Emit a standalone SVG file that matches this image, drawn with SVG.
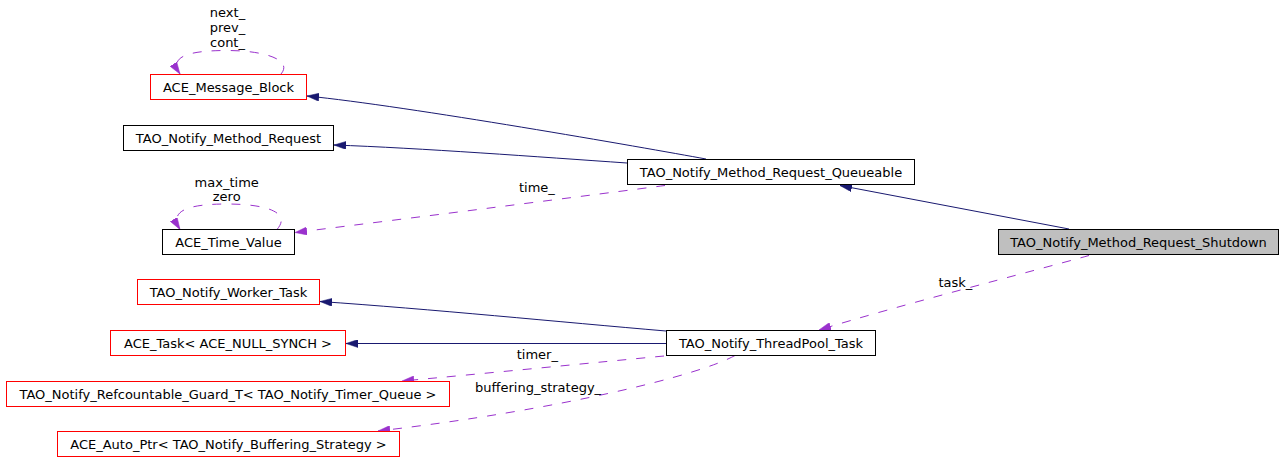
<svg xmlns="http://www.w3.org/2000/svg" width="1285" height="463" viewBox="0 0 1285 463">
<style>
text { font-family: "DejaVu Sans", "Liberation Sans", sans-serif; font-size: 13px; fill: #000000; }
.node text { text-anchor: middle; }
.box { fill: #ffffff; stroke: #000000; stroke-width: 1; }
.red { fill: #ffffff; stroke: #ff0000; stroke-width: 1; }
.focus { fill: #bfbfbf; stroke: #000000; stroke-width: 1; }
.inh { fill: none; stroke: #191970; stroke-width: 1; marker-end: url(#navyArrow); }
.use { fill: none; stroke: #9a32cd; stroke-width: 1; stroke-dasharray: 9,10; marker-end: url(#purpleArrow); }
.lbl { text-anchor: middle; }
</style>
<defs>
<marker id="navyArrow" markerUnits="userSpaceOnUse" viewBox="0 0 12 8" markerWidth="12" markerHeight="8" refX="12" refY="4" orient="auto">
<path d="M0,0 L12,4 L0,8 Z" fill="#191970" stroke="#191970" stroke-width="0.5"/>
</marker>
<marker id="purpleArrow" markerUnits="userSpaceOnUse" viewBox="0 0 12 8" markerWidth="12" markerHeight="8" refX="12" refY="4" orient="auto">
<path d="M0,0 L12,4 L0,8 Z" fill="#9a32cd" stroke="#9a32cd" stroke-width="0.5"/>
</marker>
</defs>
<rect x="0" y="0" width="1285" height="463" fill="#ffffff"/>

<g id="connectors">
<path class="use" d="M281,74 C293,60 265,50.5 227,50.5 C190,50.5 168,56 180,74"/>
<path class="use" d="M277,229.5 C292,212 265,204 227,204 C190,204 168,210 180,229.5"/>
<path class="inh" d="M706,159 C646,148 407,106 307,96"/>
<path class="inh" d="M627,163 C540,157 420,148 334,145"/>
<path class="use" d="M665,185.5 C600,194 420,217 295,232.5"/>
<path class="inh" d="M1069,229 L840,185.5"/>
<path class="use" d="M1089,255.5 C1030,272 900,305 819,330"/>
<path class="inh" d="M666,331 C560,322 430,309 320,301.5"/>
<path class="inh" d="M666,343.5 L346,343.5"/>
<path class="use" d="M664,356 C600,362 480,374 402,381"/>
<path class="use" d="M735,355.5 C700,375 560,410 378,431"/>
<text class="lbl" x="227.5" y="17.3">next_</text>
<text class="lbl" x="227.5" y="32">prev_</text>
<text class="lbl" x="227.5" y="46.7">cont_</text>
<text class="lbl" x="226.7" y="187.3">max_time</text>
<text class="lbl" x="226.7" y="201">zero</text>
<text x="519" y="191.5">time_</text>
<text x="938.5" y="286.7">task_</text>
<text x="516.7" y="359.3">timer_</text>
<text x="475" y="391.5">buffering_strategy_</text>
</g>

<g id="node-ace-message-block" class="node">
<rect class="red" x="150.5" y="74.5" width="156" height="25"/>
<text x="228.5" y="91.7">ACE_Message_Block</text>
</g>
<g id="node-tao-notify-method-request" class="node">
<rect class="box" x="123.5" y="125.5" width="210" height="25"/>
<text x="228.5" y="143">TAO_Notify_Method_Request</text>
</g>
<g id="node-ace-time-value" class="node">
<rect class="box" x="162.5" y="229.5" width="132" height="25"/>
<text x="228.5" y="246.8">ACE_Time_Value</text>
</g>
<g id="node-tao-notify-method-request-queueable" class="node">
<rect class="box" x="627.5" y="159.5" width="287" height="25"/>
<text x="771" y="176.8">TAO_Notify_Method_Request_Queueable</text>
</g>
<g id="node-tao-notify-method-request-shutdown" class="node">
<rect class="focus" x="998.5" y="229.5" width="280" height="25"/>
<text x="1138.5" y="246.8">TAO_Notify_Method_Request_Shutdown</text>
</g>
<g id="node-tao-notify-worker-task" class="node">
<rect class="red" x="137.5" y="279.5" width="182" height="25"/>
<text x="228.5" y="296.8">TAO_Notify_Worker_Task</text>
</g>
<g id="node-ace-task" class="node">
<rect class="red" x="110.5" y="330.5" width="235" height="25"/>
<text x="228" y="347.8">ACE_Task&lt; ACE_NULL_SYNCH &gt;</text>
</g>
<g id="node-tao-notify-threadpool-task" class="node">
<rect class="box" x="666.5" y="330.5" width="209" height="25"/>
<text x="771" y="347.8">TAO_Notify_ThreadPool_Task</text>
</g>
<g id="node-tao-notify-refcountable-guard" class="node">
<rect class="red" x="6.5" y="381.5" width="443" height="25"/>
<text x="228" y="398.8">TAO_Notify_Refcountable_Guard_T&lt; TAO_Notify_Timer_Queue &gt;</text>
</g>
<g id="node-ace-auto-ptr" class="node">
<rect class="red" x="57.5" y="431.5" width="342" height="25"/>
<text x="228.5" y="448.8">ACE_Auto_Ptr&lt; TAO_Notify_Buffering_Strategy &gt;</text>
</g>
</svg>
